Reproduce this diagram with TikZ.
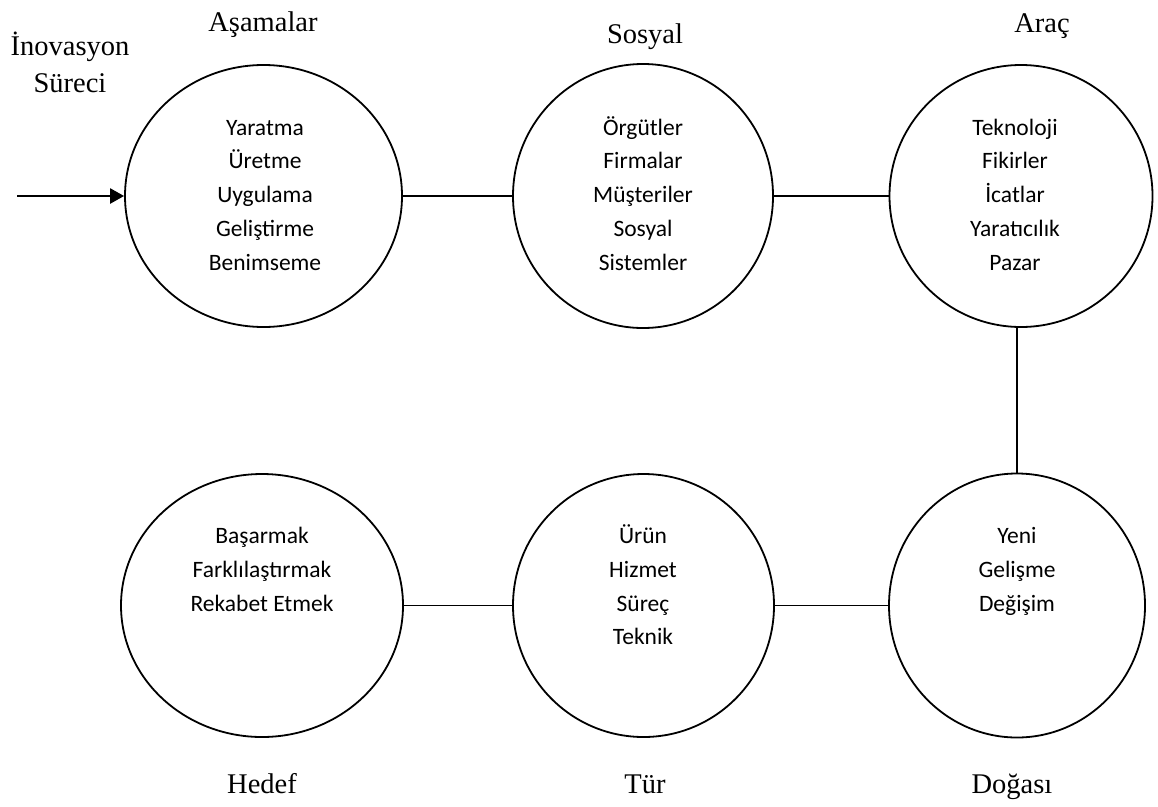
\documentclass[tikz,border=0pt]{standalone}
\usepackage{fontspec}
\setmainfont{Liberation Serif}
\newfontfamily\carlitofont{Carlito}
\usetikzlibrary{shapes.geometric,arrows.meta}
% centred lines, baseline of the box = baseline of the first line
\newcommand\stacklines[1]{\vtop{\baselineskip=33.8pt\halign{\hfil##\hfil\cr#1\crcr}}}

\begin{document}
\begin{tikzpicture}[x=1pt,y=-1pt,
  bubble/.style={ellipse,draw,line width=1.8pt,inner sep=0pt},
  link/.style={line width=1.8pt},
  feed/.style={line width=2.4pt,-{Triangle[length=14pt,width=15pt]}},
  inlist/.style={font=\carlitofont\fontsize{23.5}{33.8}\selectfont,inner sep=0pt,anchor=base},
  caption/.style={font=\fontsize{28.5}{30}\selectfont,inner sep=0pt,anchor=base}]
\useasboundingbox (0,0) rectangle (1158,806);

% circles
\node[bubble,minimum width=277pt,minimum height=262pt] (c1) at (263.5,196) {};
\node[bubble,minimum width=260pt,minimum height=264pt] (c2) at (643,196) {};
\node[bubble,minimum width=263pt,minimum height=262pt] (c3) at (1021,196) {};
\node[bubble,minimum width=282pt,minimum height=263pt] (c4) at (262,605.5) {};
\node[bubble,minimum width=261pt,minimum height=263pt] (c5) at (643.5,605.5) {};
\node[bubble,minimum width=256pt,minimum height=264pt] (c6) at (1017,605.5) {};

% contents
\node[inlist] (t1) at (265,135) {\stacklines{Yaratma\cr Üretme\cr Uygulama\cr Geliştirme\cr Benimseme}};
\node[inlist] (t2) at (643,135) {\stacklines{Örgütler\cr Firmalar\cr Müşteriler\cr Sosyal\cr Sistemler}};
\node[inlist] (t3) at (1015,135) {\stacklines{Teknoloji\cr Fikirler\cr İcatlar\cr Yaratıcılık\cr Pazar}};
\node[inlist] (t4) at (262,543.5) {\stacklines{Başarmak\cr Farklılaştırmak\cr Rekabet Etmek}};
\node[inlist] (t5) at (643,543.5) {\stacklines{Ürün\cr Hizmet\cr Süreç\cr Teknik}};
\node[inlist] (t6) at (1017,543.5) {\stacklines{Yeni\cr Gelişme\cr Değişim}};

% captions
\node[caption] (k0a) at (70,55) {İnovasyon};
\node[caption] (k0b) at (70,92) {Süreci};
\node[caption] (k1) at (263,31) {Aşamalar};
\node[caption] (k2) at (645,43) {Sosyal};
\node[caption] (k3) at (1042,32) {Araç};
\node[caption] (k4) at (262,793) {Hedef};
\node[caption] (k5) at (645,793) {Tür};
\node[caption] (k6) at (1012,793) {Doğası};

% connectors
\coordinate (src) at (17,196);
\draw[feed] (src) -- (c1.west);
\draw[link] (c1.east) -- (c2.west);
\draw[link] (c2.east) -- (c3.west);
\draw[link] (c6.north) -- (c6.north |- c3.south);
\draw[link] (c6.west) -- (c5.east);
\draw[link] (c5.west) -- (c4.east);
\end{tikzpicture}
\end{document}
